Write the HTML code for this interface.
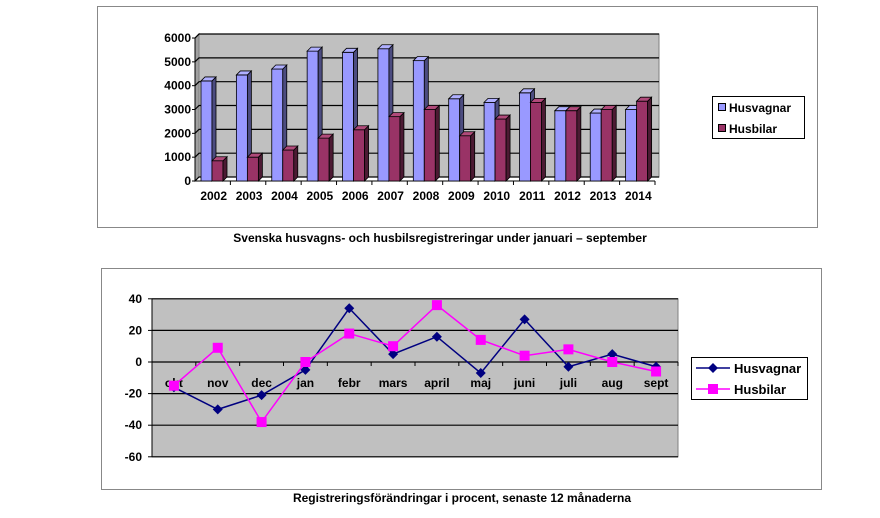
<!DOCTYPE html>
<html><head><meta charset="utf-8"><style>
body{margin:0;background:#fff;}
svg text{font-family:"Liberation Sans",Arial,sans-serif;font-weight:bold;}
</style></head><body>
<svg id="s" width="880" height="513" xmlns="http://www.w3.org/2000/svg">
<rect x="97.5" y="6.5" width="720" height="221" fill="#fff" stroke="#888"/>
<rect x="101.5" y="268.5" width="720" height="221" fill="#fff" stroke="#888"/>
<text x="440" y="242" font-size="12" text-anchor="middle">Svenska husvagns- och husbilsregistreringar under januari – september</text>
<text x="462" y="502" font-size="12" text-anchor="middle">Registreringsförändringar i procent, senaste 12 månaderna</text>
<g id="top"></g><g id="bot"></g>
</svg>
<script>
var ns="http://www.w3.org/2000/svg";
function el(p,t,a,txt){var e=document.createElementNS(ns,t);for(var k in a)e.setAttribute(k,a[k]);if(txt!==undefined)e.textContent=txt;p.appendChild(e);return e;}
var T=document.getElementById('top');
var x0=195,x1=655,y0=181,d=4,sc=0.02383;
el(T,'polygon',{points:(x0+d)+','+(y0-d)+' '+(x1+d)+','+(y0-d)+' '+(x1+d)+','+(38-d)+' '+(x0+d)+','+(38-d),fill:'#c0c0c0',stroke:'#808080'});
el(T,'polygon',{points:x0+','+y0+' '+(x0+d)+','+(y0-d)+' '+(x0+d)+','+(38-d)+' '+x0+','+38,fill:'#a0a0a0',stroke:'#808080'});
for(var i=0;i<=6;i++){var y=y0-i*1000*sc;
 el(T,'polyline',{points:x0+','+y+' '+(x0+d)+','+(y-d)+' '+(x1+d)+','+(y-d),fill:'none',stroke:'#000','stroke-width':1.2});
 el(T,'line',{x1:x0-3,y1:y,x2:x0,y2:y,stroke:'#000'});
 el(T,'text',{x:x0-4,y:y+4,'font-size':12,'text-anchor':'end'},String(i*1000));}
el(T,'line',{x1:x0,y1:y0,x2:x1,y2:y0,stroke:'#000'});
el(T,'line',{x1:x0,y1:y0,x2:x0,y2:38,stroke:'#000'});
var hv=[4200,4450,4700,5450,5400,5550,5050,3450,3300,3700,2950,2850,3000];
var hb=[850,1000,1300,1800,2150,2700,3000,1900,2600,3300,2950,3000,3350];
var cw=(x1-x0)/13;
function bar(x,w,v,f,s,t){var h=v*sc,yt=y0-h;
 el(T,'rect',{x:x,y:yt,width:w,height:h,fill:f,stroke:'#000','stroke-width':0.8});
 el(T,'polygon',{points:(x+w)+','+yt+' '+(x+w+d)+','+(yt-d)+' '+(x+w+d)+','+(y0-d)+' '+(x+w)+','+y0,fill:s,stroke:'#000','stroke-width':0.8});
 el(T,'polygon',{points:x+','+yt+' '+(x+d)+','+(yt-d)+' '+(x+w+d)+','+(yt-d)+' '+(x+w)+','+yt,fill:t,stroke:'#000','stroke-width':0.8});}
for(var i=0;i<13;i++){var cx=x0+i*cw;
 bar(cx+6,11,hv[i],'#9999ff','#4c4c80','#b0b0ff');
 bar(cx+17,11,hb[i],'#993366','#4c1a33','#b04a7a');
 el(T,'line',{x1:cx+cw,y1:y0,x2:cx+cw,y2:y0+4,stroke:'#000'});
 el(T,'text',{x:cx+cw/2+1,y:200,'font-size':12,'text-anchor':'middle'},String(2002+i));}
el(T,'rect',{x:712.5,y:96.5,width:92,height:42,fill:'#fff',stroke:'#000'});
el(T,'rect',{x:718.5,y:103.5,width:7,height:7,fill:'#9999ff',stroke:'#000'});
el(T,'rect',{x:718.5,y:124.5,width:7,height:7,fill:'#993366',stroke:'#000'});
el(T,'text',{x:729,y:112,'font-size':12},'Husvagnar');
el(T,'text',{x:729,y:133,'font-size':12},'Husbilar');
var B=document.getElementById('bot');
var px0=152,px1=678,py=function(v){return 362-v*1.58;};
el(B,'rect',{x:px0,y:py(40),width:px1-px0,height:py(-60)-py(40),fill:'#c0c0c0',stroke:'#808080'});
for(var v=-60;v<=40;v+=20){var y=py(v);
 el(B,'line',{x1:px0,y1:y,x2:px1,y2:y,stroke:'#000','stroke-width':1.2});
 el(B,'line',{x1:px0-4,y1:y,x2:px0,y2:y,stroke:'#000'});
 el(B,'text',{x:px0-10,y:y+4,'font-size':12,'text-anchor':'end'},String(v));}
el(B,'line',{x1:px0,y1:py(40),x2:px0,y2:py(-60),stroke:'#000'});
var m=['okt','nov','dec','jan','febr','mars','april','maj','juni','juli','aug','sept'];
var sw=(px1-px0)/12;
var a=[-16,-30,-21,-5,34,5,16,-7,27,-3,5,-3],b=[-15,9,-38,0,18,10,36,14,4,8,0,-6];
for(var i=0;i<12;i++){var cx=px0+sw*(i+0.5);
 el(B,'line',{x1:px0+sw*(i+1),y1:362,x2:px0+sw*(i+1),y2:366,stroke:'#000'});
 el(B,'text',{x:cx,y:387,'font-size':12,'text-anchor':'middle'},m[i]);}
function series(vals,c,mk){var pts=vals.map(function(v,i){return (px0+sw*(i+0.5))+','+py(v);}).join(' ');
 el(B,'polyline',{points:pts,fill:'none',stroke:c,'stroke-width':1.5});
 vals.forEach(function(v,i){var x=px0+sw*(i+0.5),y=py(v);
  if(mk=='d')el(B,'polygon',{points:x+','+(y-5)+' '+(x+5)+','+y+' '+x+','+(y+5)+' '+(x-5)+','+y,fill:c});
  else el(B,'rect',{x:x-5,y:y-5,width:10,height:10,fill:c});});}
series(a,'#000080','d');series(b,'#ff00ff','s');
el(B,'rect',{x:691.5,y:357.5,width:116,height:42,fill:'#fff',stroke:'#000'});
el(B,'line',{x1:696,y1:368,x2:730,y2:368,stroke:'#000080','stroke-width':1.5});
el(B,'polygon',{points:'713,363 718,368 713,373 708,368',fill:'#000080'});
el(B,'line',{x1:696,y1:389,x2:730,y2:389,stroke:'#ff00ff','stroke-width':1.5});
el(B,'rect',{x:708,y:384,width:10,height:10,fill:'#ff00ff'});
el(B,'text',{x:734,y:373,'font-size':13},'Husvagnar');
el(B,'text',{x:734,y:394,'font-size':13},'Husbilar');
</script>
</body></html>
